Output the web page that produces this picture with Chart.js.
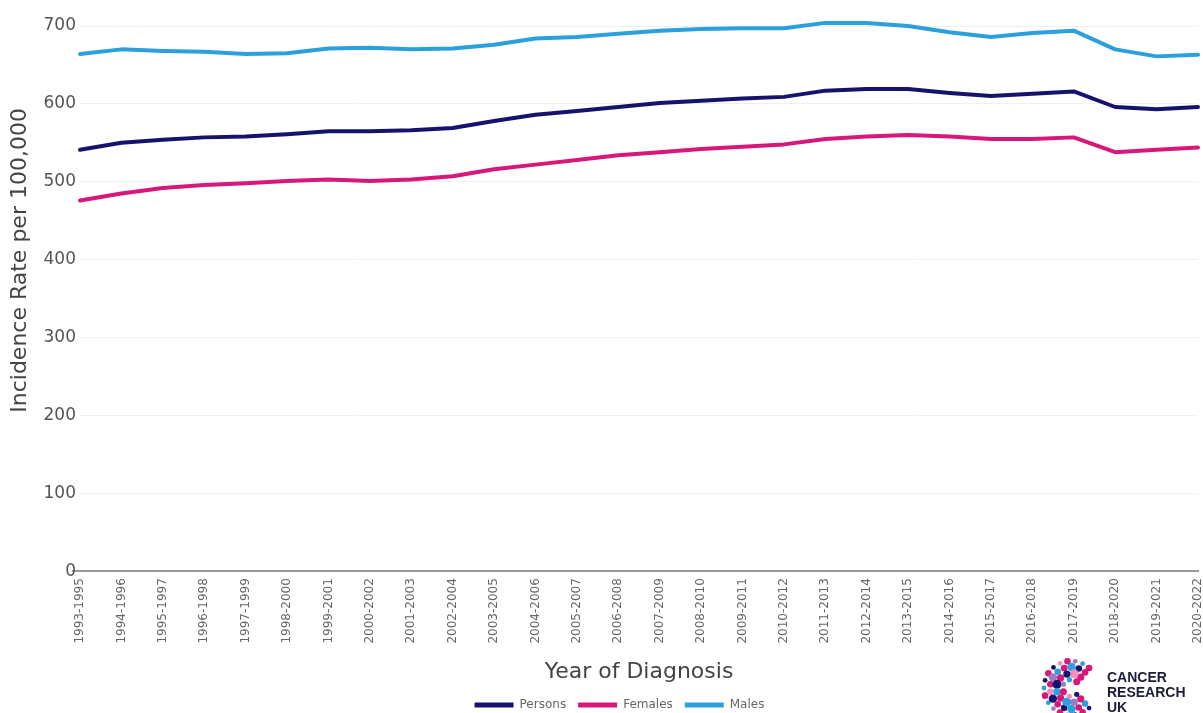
<!DOCTYPE html>
<html>
<head>
<meta charset="utf-8">
<script src="https://cdn.jsdelivr.net/npm/chart.js@4/dist/chart.umd.min.js"></script>
<style>
  html, body { margin: 0; padding: 0; background: #ffffff; }
  #wrap { width: 1203px; height: 713px; position: relative; }
</style>
</head>
<body>
<div id="wrap"><canvas id="chart" width="1203" height="713"></canvas></div>
<script>
// Three-year rolling periods of diagnosis
const categories = [
  '1993-1995','1994-1996','1995-1997','1996-1998','1997-1999','1998-2000','1999-2001',
  '2000-2002','2001-2003','2002-2004','2003-2005','2004-2006','2005-2007','2006-2008',
  '2007-2009','2008-2010','2009-2011','2010-2012','2011-2013','2012-2014','2013-2015',
  '2014-2016','2015-2017','2016-2018','2017-2019','2018-2020','2019-2021','2020-2022'
];

// Incidence rate per 100,000
const persons = [541, 550, 554, 557, 558, 561, 565, 565, 566, 569, 578, 586, 591, 596,
                 601, 604, 607, 609, 617, 619, 619, 614, 610, 613, 616, 596, 593, 596];
const females = [476, 485, 492, 496, 498, 501, 503, 501, 503, 507, 516, 522, 528, 534,
                 538, 542, 545, 548, 555, 558, 560, 558, 555, 555, 557, 538, 541, 544];
const males   = [664, 670, 668, 667, 664, 665, 671, 672, 670, 671, 676, 684, 686, 690,
                 694, 696, 697, 697, 704, 704, 700, 692, 686, 691, 694, 670, 661, 663];

const seriesNames = ['Persons', 'Females', 'Males'];
const yAxisTitle = 'Incidence Rate per 100,000';
const xAxisTitle = 'Year of Diagnosis';
const logoLines = ['CANCER', 'RESEARCH', 'UK'];

const NAVY = '#15136d';
const PINK = '#d8177a';
const BLUE = '#2aa0dc';
const FONT = "'DejaVu Sans', 'Noto Sans', sans-serif";

function lineSet(label, data, color) {
  return {
    label, data,
    borderColor: color,
    backgroundColor: color,
    borderWidth: 4,
    pointRadius: 0,
    pointHoverRadius: 0,
    tension: 0,
    borderJoinStyle: 'round',
    borderCapStyle: 'round',
    clip: false
  };
}

// Rotated y-axis title, sitting a little above the plot's vertical centre
const yTitlePlugin = {
  id: 'yTitle',
  afterDraw(chart) {
    const { ctx, chartArea } = chart;
    ctx.save();
    ctx.translate(20, chartArea.top + (chartArea.bottom - chartArea.top) * 0.43);
    ctx.rotate(-Math.PI / 2);
    ctx.font = `400 22px ${FONT}`;
    ctx.fillStyle = '#444444';
    ctx.textAlign = 'center';
    ctx.textBaseline = 'middle';
    ctx.fillText(yAxisTitle, 0, 0);
    ctx.restore();
  }
};

// Dotted "C" mark with the organisation name beside it
const logoPlugin = {
  id: 'logo',
  afterDraw(chart) {
    const { ctx } = chart;
    const cx = 1071, cy = 688;
    const palette = [PINK, NAVY, BLUE, PINK, '#9b7cc4', NAVY, PINK, BLUE, '#f08fc0'];
    const rings = [
      { r: 27, n: 17, s: 2.4 },
      { r: 21, n: 14, s: 3.3 },
      { r: 14.5, n: 10, s: 3.6 },
      { r: 8.5, n: 6, s: 2.6 }
    ];
    ctx.save();
    rings.forEach((ring, ri) => {
      for (let k = 0; k < ring.n; k++) {
        const a = (48 + (264 * k) / (ring.n - 1)) * Math.PI / 180;
        const x = cx + ring.r * Math.cos(a);
        const y = cy - ring.r * Math.sin(a);
        ctx.beginPath();
        ctx.fillStyle = palette[(k * 2 + ri * 3) % palette.length];
        ctx.arc(x, y, ring.s + ((k + ri) % 3 === 0 ? 0.9 : 0), 0, Math.PI * 2);
        ctx.fill();
      }
    });
    ctx.fillStyle = '#1d1d3a';
    ctx.font = `700 14px 'Liberation Sans', Arial, sans-serif`;
    ctx.textAlign = 'left';
    ctx.textBaseline = 'alphabetic';
    logoLines.forEach((t, i) => ctx.fillText(t, 1107, 682 + i * 15));
    ctx.restore();
  }
};

new Chart(document.getElementById('chart'), {
  type: 'line',
  data: {
    labels: categories,
    datasets: [
      lineSet(seriesNames[0], persons, NAVY),
      lineSet(seriesNames[1], females, PINK),
      lineSet(seriesNames[2], males, BLUE)
    ]
  },
  options: {
    responsive: false,
    animation: false,
    layout: { padding: { top: 26, left: 36, right: 0, bottom: -8 } },
    plugins: {
      tooltip: { enabled: false },
      legend: {
        position: 'bottom',
        labels: {
          boxWidth: 39,
          boxHeight: 5,
          padding: 12,
          color: '#666666',
          font: { family: FONT, size: 12 },
          generateLabels(chart) {
            return Chart.defaults.plugins.legend.labels.generateLabels(chart)
              .map(l => Object.assign(l, { lineWidth: 0 }));
          }
        }
      }
    },
    scales: {
      x: {
        grid: { display: false, drawTicks: false },
        border: { display: true, color: '#999999', width: 2 },
        afterFit(scale) {
          // let the last rotated label run to the canvas edge
          scale.paddingRight = 5;
        },
        ticks: {
          autoSkip: false,
          maxRotation: 90,
          minRotation: 90,
          padding: 7,
          color: '#666666',
          font: { family: FONT, size: 12 }
        },
        title: {
          display: true,
          text: xAxisTitle,
          color: '#444444',
          font: { family: FONT, size: 22 },
          padding: { top: 8, bottom: 2 }
        }
      },
      y: {
        min: 0,
        max: 700,
        border: { display: false },
        afterFit(scale) {
          // fixed width so the labels sit close to the plot
          scale.width = 44;
        },
        grid: {
          color: c => c.tick && c.tick.value === 0 ? '#999999' : '#f0f0f0',
          lineWidth: c => c.tick && c.tick.value === 0 ? 2 : 1,
          tickColor: c => c.tick && c.tick.value === 0 ? '#999999' : 'rgba(0,0,0,0)',
          tickLength: 8,
          drawTicks: true
        },
        ticks: {
          stepSize: 100,
          padding: -4,
          color: '#555555',
          font: { family: FONT, size: 17 }
        }
      }
    }
  },
  plugins: [yTitlePlugin, logoPlugin]
});
</script>
</body>
</html>
